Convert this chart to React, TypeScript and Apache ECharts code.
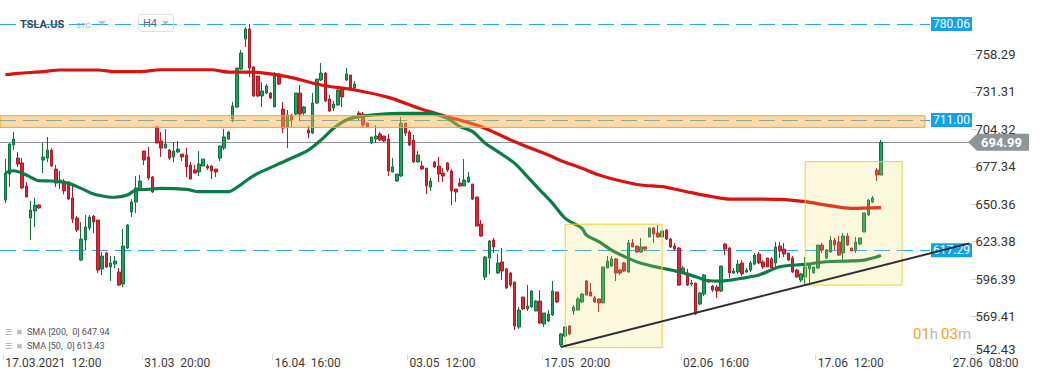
import React, { useEffect, useRef } from 'react';
import * as echarts from 'echarts';

// [open, high, low, close] per H4 candle
const candles: [number, number, number, number][] = [
  [653.4, 682.9, 651.3, 672.8], [672.1, 694.4, 662.8, 693.7], [693.0, 702.4, 689.4, 697.3], [683.6, 688.0, 677.2, 679.3],
  [680.1, 683.6, 661.3, 662.1], [663.5, 666.4, 655.6, 655.6], [640.5, 652.7, 624.6, 646.2], [645.5, 654.9, 634.0, 649.8],
  [649.8, 650.5, 646.9, 647.7], [682.2, 694.4, 672.8, 684.4], [683.6, 698.8, 680.8, 689.4], [689.4, 690.8, 677.2, 677.9],
  [675.7, 678.6, 662.8, 665.6], [666.4, 674.3, 661.3, 667.8], [667.1, 668.5, 657.4, 659.9], [666.4, 667.1, 653.4, 654.1],
  [654.9, 664.2, 636.9, 639.7], [640.5, 641.9, 630.4, 631.8], [610.2, 637.6, 609.5, 625.3], [624.6, 642.6, 617.4, 634.0],
  [633.3, 642.6, 631.8, 641.2], [641.9, 642.6, 629.7, 637.6], [639.0, 639.0, 600.9, 603.0], [603.8, 616.0, 599.4, 613.1],
  [615.3, 616.0, 604.5, 605.2], [605.2, 613.1, 595.1, 608.1], [607.3, 613.1, 604.5, 609.5], [601.6, 604.5, 591.5, 592.2],
  [592.9, 632.5, 590.8, 620.3], [618.9, 636.1, 618.1, 635.4], [644.8, 654.1, 641.2, 652.0], [652.0, 670.7, 644.1, 662.1],
  [660.6, 671.4, 659.9, 667.1], [688.7, 688.7, 678.6, 682.2], [684.4, 691.6, 667.8, 669.3], [670.0, 670.7, 658.5, 659.2],
  [706.0, 706.7, 694.4, 694.4], [695.9, 702.4, 684.4, 690.8], [690.8, 704.5, 690.8, 693.7], [689.4, 690.1, 682.2, 683.6],
  [684.4, 695.2, 680.8, 688.7], [688.0, 695.9, 687.3, 690.1], [686.5, 686.5, 681.5, 684.4], [685.8, 690.8, 670.0, 677.2],
  [678.6, 680.8, 668.5, 668.5], [675.0, 678.6, 672.8, 672.8], [673.6, 688.7, 670.7, 679.3], [677.9, 682.9, 677.9, 682.9],
  [677.9, 679.3, 675.0, 676.4], [677.9, 678.6, 668.5, 674.3], [675.7, 675.7, 670.0, 673.6], [683.6, 692.3, 681.5, 692.3],
  [690.8, 704.5, 689.4, 698.8], [697.3, 703.1, 696.6, 702.4], [711.7, 723.9, 709.5, 721.1], [720.4, 748.4, 719.6, 748.4],
  [747.7, 761.4, 747.0, 759.2], [769.3, 777.9, 763.5, 776.5], [776.5, 780.1, 741.9, 748.4], [749.2, 749.9, 727.6, 728.3],
  [742.7, 742.7, 727.6, 728.3], [728.3, 738.4, 720.4, 731.9], [730.4, 736.9, 729.7, 735.5], [730.4, 731.1, 726.1, 726.8],
  [720.4, 745.5, 720.4, 742.7], [744.1, 744.8, 736.2, 736.9], [718.9, 723.9, 701.6, 705.2], [706.0, 718.2, 690.8, 714.6],
  [714.6, 715.3, 706.0, 711.0], [715.3, 730.4, 714.6, 730.4], [730.4, 736.2, 710.3, 715.3], [716.0, 721.1, 714.6, 720.4],
  [703.8, 706.7, 698.0, 701.6], [701.6, 730.4, 700.9, 723.2], [723.2, 740.5, 722.5, 740.5], [739.8, 752.0, 739.1, 744.8],
  [744.8, 745.5, 723.9, 724.7], [726.1, 729.0, 716.8, 717.5], [719.6, 724.7, 717.5, 722.5], [721.8, 734.0, 721.1, 732.6],
  [733.3, 734.0, 720.4, 727.6], [739.8, 748.4, 739.1, 744.1], [743.4, 743.4, 733.3, 734.0], [734.0, 739.1, 733.3, 736.9],
  [716.0, 717.5, 711.0, 714.6], [715.3, 716.8, 705.2, 707.4], [708.8, 708.8, 706.0, 706.0], [694.4, 698.8, 693.7, 698.8],
  [697.3, 707.4, 694.4, 699.5], [700.9, 702.4, 695.9, 696.6], [699.5, 699.5, 695.2, 695.9], [697.3, 700.9, 670.7, 674.3],
  [673.6, 683.6, 673.6, 677.2], [667.1, 672.1, 666.4, 672.1], [670.7, 713.2, 670.0, 708.8], [708.8, 708.8, 699.5, 701.6],
  [702.4, 703.8, 692.3, 693.0], [696.6, 700.2, 680.1, 680.8], [680.8, 688.7, 680.1, 685.8], [677.9, 681.5, 675.0, 675.7],
  [676.4, 676.4, 657.7, 663.5], [662.8, 669.3, 659.9, 667.1], [680.8, 681.5, 676.4, 677.2], [677.9, 684.4, 666.4, 672.1],
  [672.8, 676.4, 666.4, 670.7], [680.1, 680.8, 673.6, 675.0], [674.3, 675.7, 649.8, 659.9], [661.3, 661.3, 652.0, 659.2],
  [665.6, 669.3, 662.8, 663.5], [663.5, 682.9, 663.5, 667.8], [666.4, 673.6, 665.6, 670.0], [664.9, 664.9, 653.4, 654.1],
  [655.6, 655.6, 634.7, 634.7], [636.1, 639.0, 626.8, 627.5], [598.0, 613.1, 595.8, 612.4], [611.7, 624.6, 600.2, 623.9],
  [624.6, 626.1, 615.3, 619.6], [600.9, 614.5, 600.2, 608.1], [608.8, 618.9, 595.8, 602.3], [603.8, 604.5, 589.4, 590.1],
  [600.9, 601.6, 590.8, 592.2], [594.4, 594.4, 559.8, 562.7], [562.0, 576.4, 560.6, 574.2], [583.6, 583.6, 574.2, 575.0],
  [575.0, 592.2, 573.5, 577.1], [576.4, 588.6, 575.7, 587.9], [573.5, 581.4, 573.5, 580.7], [580.7, 588.6, 564.2, 564.9],
  [564.2, 572.1, 562.0, 572.1], [566.3, 574.2, 565.6, 571.4], [570.7, 595.1, 569.9, 587.9], [587.2, 587.2, 579.3, 580.0],
  [549.1, 557.7, 547.6, 557.0], [555.5, 562.7, 554.8, 562.0], [562.7, 563.4, 556.2, 557.0], [573.5, 577.8, 570.7, 576.4],
  [574.2, 583.6, 574.2, 582.2], [580.0, 586.5, 579.3, 585.7], [595.1, 595.8, 585.0, 585.0], [587.2, 593.7, 584.3, 584.3],
  [582.9, 584.3, 579.3, 580.0], [582.2, 582.2, 572.8, 579.3], [579.3, 605.2, 579.3, 605.2], [604.5, 613.1, 604.5, 609.5],
  [605.9, 613.1, 605.2, 611.0], [611.0, 611.7, 595.1, 600.9], [603.0, 603.8, 599.4, 600.9], [608.1, 608.8, 601.6, 602.3],
  [601.6, 624.6, 600.9, 622.5], [622.5, 625.3, 619.6, 619.6], [620.3, 620.3, 615.3, 616.0], [616.0, 626.1, 615.3, 619.6],
  [619.6, 620.3, 616.7, 618.1], [626.8, 633.3, 626.8, 633.3], [633.3, 634.0, 622.5, 629.0], [629.7, 635.4, 626.1, 626.8],
  [626.8, 631.1, 626.8, 631.1], [631.8, 632.5, 624.6, 625.3], [625.3, 626.1, 618.9, 619.6], [620.3, 622.5, 616.7, 618.1],
  [618.9, 619.6, 591.5, 592.2], [600.9, 605.9, 600.2, 604.5], [600.9, 603.8, 591.5, 592.2], [592.9, 595.8, 591.5, 593.7],
  [593.7, 593.7, 570.7, 571.4], [578.6, 587.2, 577.8, 586.5], [585.7, 600.2, 584.3, 599.4], [595.8, 596.6, 593.7, 594.4],
  [591.5, 592.2, 587.2, 588.6], [590.8, 592.2, 582.9, 587.9], [587.9, 605.9, 587.2, 605.9], [621.7, 622.5, 613.8, 618.1],
  [618.9, 619.6, 597.3, 600.9], [600.9, 604.5, 600.2, 602.3], [601.6, 610.2, 600.2, 607.3], [608.1, 610.2, 598.7, 600.2],
  [601.6, 604.5, 600.9, 603.0], [603.0, 609.5, 601.6, 608.1], [607.3, 615.3, 606.6, 613.8], [614.5, 616.0, 607.3, 608.1],
  [608.8, 610.2, 603.8, 605.2], [611.7, 611.7, 605.2, 605.2], [611.0, 612.4, 603.8, 604.5], [608.1, 623.2, 604.5, 619.6],
  [620.3, 623.2, 611.7, 616.7], [618.1, 622.5, 612.4, 614.5], [615.3, 615.3, 609.5, 610.2], [611.7, 613.1, 600.9, 601.6],
  [603.0, 603.8, 597.3, 598.0], [595.8, 600.9, 594.4, 600.2], [598.0, 612.4, 592.2, 605.2], [603.8, 608.1, 592.2, 606.6],
  [600.9, 605.2, 600.9, 605.2], [604.5, 621.0, 603.8, 621.0], [621.0, 622.5, 615.3, 617.4], [611.7, 618.1, 611.0, 617.4],
  [616.0, 627.5, 615.3, 624.6], [624.6, 626.1, 617.4, 621.0], [623.2, 627.5, 613.1, 613.8], [615.3, 629.7, 609.5, 627.5],
  [627.5, 629.7, 620.3, 621.0], [618.9, 618.9, 616.7, 616.7], [617.4, 626.8, 615.3, 623.2], [621.7, 626.1, 621.0, 626.1],
  [630.4, 644.1, 630.4, 644.1], [642.6, 654.1, 641.9, 653.4], [652.0, 656.3, 651.3, 654.9], [675.0, 676.4, 667.1, 671.4],
  [671.4, 696.6, 671.4, 694.99],
];

// [candle index, value]
const sma200: [number, number][] = [
  [0, 743.6], [3, 744.6], [9, 745.8], [13, 747.0], [22, 747.0], [26, 745.8], [32, 745.8], [37, 747.2], [49, 747.2],
  [53, 745.5], [58, 745.5], [60, 745.3], [67, 742.2], [75, 736.2], [83, 732.6], [91, 727.3], [99, 718.7], [105, 713.4],
  [113, 706.2], [121, 695.4], [129, 685.8], [132, 681.7], [137, 676.2], [141, 671.4], [146, 667.3], [151, 664.2],
  [156, 663.0], [160, 660.6], [163, 658.7], [168, 655.8], [172, 654.1], [179, 654.1], [184, 653.9], [190, 652.2],
  [195, 649.8], [201, 647.4], [208, 647.94],
];
const sma50: [number, number][] = [
  [0, 673.1], [2, 674.5], [5, 671.4], [8, 667.3], [11, 667.1], [15, 665.4], [18, 661.8], [21, 657.7], [24, 655.8],
  [26, 655.4], [29, 657.0], [31, 660.6], [34, 661.1], [37, 661.8], [43, 661.1], [46, 659.4], [53, 659.4], [55, 662.5],
  [58, 669.0], [60, 672.6], [67, 682.2], [72, 689.4], [75, 696.6], [78, 705.0], [81, 711.0], [84, 713.4], [89, 715.1],
  [94, 715.8], [101, 715.8], [105, 712.2], [108, 706.2], [111, 702.6], [114, 694.2], [117, 688.2], [121, 679.8],
  [124, 670.2], [127, 660.6], [130, 651.0], [133, 640.2], [137, 633.0], [138, 628.2], [141, 623.4], [144, 617.4],
  [148, 611.4], [151, 607.9], [156, 604.3], [160, 601.8], [164, 598.2], [167, 595.3], [170, 595.1], [175, 597.1],
  [179, 599.4], [184, 605.4], [190, 607.1], [195, 609.0], [200, 609.5], [204, 610.2], [208, 613.43],
];

const yTicks = [758.29, 731.31, 704.32, 677.34, 650.36, 623.38, 596.39, 569.41, 542.43];
const xTickLabels: Record<number, string> = {
  0: '17.03.2021  12:00', 33: '31.03  20:00', 64: '16.04  16:00', 96: '03.05  12:00',
  128: '17.05  20:00', 161: '02.06  16:00', 193: '17.06  12:00', 225: '27.06  08:00',
};
const levelLines = [780.06, 711.0, 617.29];
const lastPrice = 694.99;
const resistanceZone: [number, number] = [705.7, 714.1];
const boxes = [
  { from: 133, to: 156, top: 636.0, bottom: 547.1 },
  { from: 190, to: 213, top: 681.0, bottom: 592.2 },
];
const trendPivots: [number, number] = [132, 190];
const smaLegend = [
  { name: 'SMA [200,  0]', value: 647.94 },
  { name: 'SMA [50,  0]', value: 613.43 },
];
const categoryCount = 230;
const yMin = 542.43;
const yMax = 797.4;

export default function App() {
  const ref = useRef<HTMLDivElement>(null);
  useEffect(() => {
    if (!ref.current) return;
    const chart = echarts.init(ref.current, undefined, { renderer: 'svg' });
    const categories = Array.from({ length: categoryCount }, (_, i) => String(i));
    const [p0, p1] = trendPivots;
    const l0 = candles[p0][2];
    const l1 = candles[p1][2];
    const endIdx = categoryCount - 1;
    const endVal = l0 + ((l1 - l0) * (endIdx - p0)) / (p1 - p0);
    const font = 'Roboto, sans-serif';

    const option: any = {
      animation: false,
      backgroundColor: '#ffffff',
      textStyle: { fontFamily: font },
      grid: { left: 3.2, top: 0, width: 968.3, height: 354.2 },
      xAxis: {
        type: 'category',
        data: categories,
        boundaryGap: true,
        axisLine: { show: false },
        axisTick: {
          show: true,
          interval: (i: number) => i in xTickLabels,
          length: 6,
          lineStyle: { color: '#d9d9d9' },
        },
        axisLabel: {
          interval: (i: number) => i in xTickLabels,
          formatter: (_v: string, i: number) => xTickLabels[i] ?? '',
          align: 'left',
          color: '#3a3a3a',
          fontSize: 12,
          margin: 3,
          fontFamily: font,
        },
        splitLine: { show: false },
      },
      yAxis: {
        type: 'value',
        position: 'right',
        min: yMin,
        max: yMax,
        axisLine: { show: false },
        splitLine: { show: false },
        axisTick: { show: true, length: 5, lineStyle: { color: '#d0d0d0' }, customValues: yTicks },
        axisLabel: {
          customValues: yTicks,
          formatter: (v: number) => (Math.abs(v - yMin) < 0.001 ? `{low|${v.toFixed(2)}}` : v.toFixed(2)),
          color: '#333',
          fontSize: 13,
          margin: 4,
          fontFamily: font,
          rich: {
            low: { color: '#333', fontSize: 13, fontFamily: font, padding: [0, 0, 10, 0] },
          },
        },
      },
      series: [
        {
          type: 'line',
          data: [],
          clip: false,
          silent: true,
          markLine: {
            silent: true,
            symbol: ['none', 'none'],
            z: 1,
            label: { show: false },
            data: [
              ...levelLines.map((v) => [
                { x: 0, yAxis: v, lineStyle: { color: '#27a7e7', width: 1, type: [16, 7] } },
                { x: 930, yAxis: v },
              ]),
              [
                { x: 0, yAxis: lastPrice, lineStyle: { color: '#8d9598', width: 1, type: 'solid' } },
                { x: 970, yAxis: lastPrice },
              ],
            ],
          },
        },
        {
          type: 'candlestick',
          data: candles.map(([o, h, l, c]) => [o, c, l, h]),
          barWidth: 3,
          z: 2,
          itemStyle: {
            color: '#21a05a',
            color0: '#df2636',
            borderColor: '#0f6f3e',
            borderColor0: '#b01a27',
            borderWidth: 1,
          },
        },
        {
          type: 'line',
          data: sma200,
          smooth: 0.3,
          symbol: 'none',
          z: 3,
          lineStyle: { color: '#dc1212', width: 3.2 },
        },
        {
          type: 'line',
          data: sma50,
          smooth: 0.3,
          symbol: 'none',
          z: 3,
          lineStyle: { color: '#0c7c46', width: 3.2 },
        },
        {
          type: 'line',
          data: [],
          clip: false,
          silent: true,
          markArea: {
            silent: true,
            z: 4,
            data: [
              [
                { x: 0, yAxis: resistanceZone[1], itemStyle: { color: 'rgba(252,176,64,0.45)', borderColor: '#f4a02c', borderWidth: 1 } },
                { x: 925, yAxis: resistanceZone[0] },
              ],
              ...boxes.map((b) => [
                { xAxis: b.from, yAxis: b.top, itemStyle: { color: 'rgba(236,220,90,0.2)', borderColor: '#f5ce30', borderWidth: 1 } },
                { xAxis: b.to, yAxis: b.bottom },
              ]),
            ],
          },
          markPoint: {
            silent: true,
            z: 5,
            data: [
              ...levelLines.map((v) => ({
                x: 951.5,
                yAxis: v,
                symbol: 'rect',
                symbolSize: [41, 14],
                itemStyle: { color: '#12a2e8' },
                label: { show: true, position: 'inside', formatter: v.toFixed(2), color: '#ffffff', fontSize: 12, fontFamily: font },
              })),
              {
                x: 998.5,
                yAxis: lastPrice,
                symbol: 'path://M0,8.5L9,0L61,0L61,17L9,17Z',
                symbolSize: [61, 17],
                itemStyle: { color: '#8d9598' },
                label: { show: true, position: 'inside', formatter: lastPrice.toFixed(2), color: '#ffffff', fontSize: 13, fontWeight: 'bold', fontFamily: font, offset: [3, 0] },
              },
            ],
          },
          markLine: {
            silent: true,
            symbol: ['none', 'none'],
            z: 6,
            label: { show: false },
            lineStyle: { color: '#2c3033', width: 2, type: 'solid' },
            data: [[{ xAxis: p0, yAxis: l0 }, { xAxis: endIdx, yAxis: endVal }]],
          },
        },
      ],
      graphic: [
        { type: 'text', z: 10, x: 20, y: 24, style: { text: 'TSLA.US', fontSize: 11, fontWeight: 'bold', fontFamily: font, fill: '#3d4752', verticalAlign: 'middle' } },
        { type: 'text', z: 10, x: 76, y: 25, style: { text: 'STC', fontSize: 8, fontFamily: font, fill: '#a7aeb4', verticalAlign: 'middle' } },
        { type: 'polygon', z: 10, shape: { points: [[98, 21], [106, 21], [102, 25]] }, style: { fill: '#b8bfc5' } },
        { type: 'rect', z: 10, shape: { x: 138.5, y: 14.5, width: 35, height: 17, r: 3 }, style: { fill: 'none', stroke: '#dde0e3', lineWidth: 1 } },
        { type: 'text', z: 10, x: 143, y: 23, style: { text: 'H4', fontSize: 11, fontFamily: font, fill: '#5d6771', verticalAlign: 'middle' } },
        { type: 'polygon', z: 10, shape: { points: [[162, 21], [169, 21], [165.5, 25]] }, style: { fill: '#b8bfc5' } },
        ...smaLegend.flatMap((s, i) => [
          { type: 'text', z: 10, x: 5, y: 332 + i * 14, style: { text: '☰', fontSize: 8, fill: '#a9a9a9', verticalAlign: 'middle' } },
          { type: 'text', z: 10, x: 16, y: 332 + i * 14, style: { text: '✖', fontSize: 8, fill: '#b3b3b3', verticalAlign: 'middle' } },
          { type: 'text', z: 10, x: 27, y: 332 + i * 14, style: { text: `${s.name} ${s.value.toFixed(2)}`, fontSize: 9, fontFamily: font, fill: '#505050', verticalAlign: 'middle' } },
        ]),
        {
          type: 'text',
          z: 10,
          x: 913,
          y: 334,
          style: {
            text: '{o|01}{g|h} {o|03}{g|m}',
            verticalAlign: 'middle',
            fontFamily: font,
            rich: {
              o: { fill: '#f7a11c', fontSize: 15, fontFamily: font },
              g: { fill: '#b9b9b9', fontSize: 15, fontFamily: font },
            },
          },
        },
      ],
    };
    chart.setOption(option);
    return () => chart.dispose();
  }, []);
  return <div ref={ref} style={{ position: 'absolute', left: 0, top: 0, width: 1041, height: 380 }} />;
}
